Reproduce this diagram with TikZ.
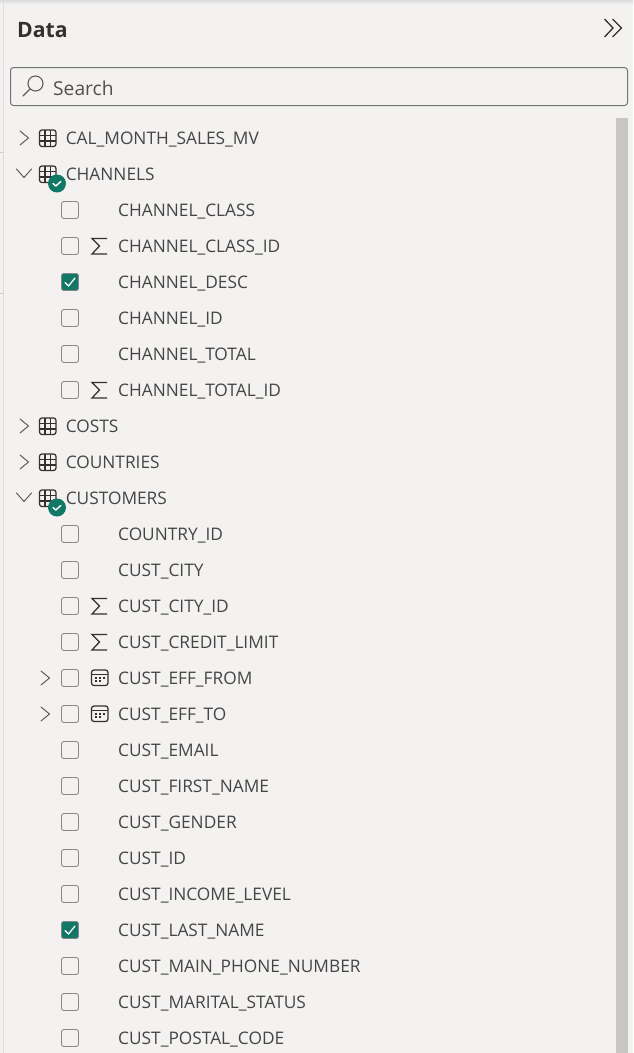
\documentclass[tikz,border=0pt]{standalone}
\usepackage{fontspec}
\setmainfont{Open Sans}
\definecolor{panelbg}{HTML}{F3F2F1}
\definecolor{inktxt}{HTML}{454545}
\definecolor{icondark}{HTML}{323130}
\definecolor{boxgray}{HTML}{8A8886}
\definecolor{teal}{HTML}{117865}
\definecolor{scrollg}{HTML}{C8C6C4}
\definecolor{chevgray}{HTML}{605E5C}
\tikzset{
  x=1pt,y=-1pt,
  lbl/.style={anchor=base west,inner sep=0pt,text=inktxt,font=\fontsize{17.3}{20}\selectfont},
  cbox/.style={draw=boxgray,line width=0.9pt,rounded corners=2.2pt,fill=panelbg},
  cboxon/.style={draw=boxgray,line width=0.9pt,rounded corners=2.2pt,fill=teal},
  chev/.style={draw=chevgray,line width=1pt,line cap=round,line join=miter},
  ico/.style={draw=icondark,line width=1.25pt},
}
\newcommand{\tblicon}[1]{%
  \draw[ico,rounded corners=2.5pt] (39.5,#1-8) rectangle (56,#1+8.5);
  \draw[ico] (45,#1-8)--(45,#1+8.5) (50.5,#1-8)--(50.5,#1+8.5) (39.5,#1-2.5)--(56,#1-2.5) (39.5,#1+3)--(56,#1+3);
}
\newcommand{\chevright}[2]{\draw[chev] (#1,#2-7)--(#1+8.5,#2)--(#1,#2+7);}
\newcommand{\chevdown}[1]{\draw[chev] (16.5,#1-5)--(24,#1+3.5)--(31.5,#1-5);}
\newcommand{\okbadge}[1]{%
  \fill[teal] (57,#1+9.5) circle (9);
  \draw[white,line width=1.4pt,line cap=round,line join=round] (53,#1+9.5)--(55.8,#1+12)--(60.8,#1+7.5);
}
\newcommand{\chkoff}[1]{\draw[cbox] (61.5,#1-8.5) rectangle (78.5,#1+8.5);}
\newcommand{\chkon}[1]{\draw[cboxon] (61.5,#1-8.5) rectangle (78.5,#1+8.5);
  \draw[white,line width=1.3pt,line cap=round,line join=round] (65,#1+0.5)--(68.5,#1+4)--(75,#1-4);}
\newcommand{\sigicon}[1]{\draw[ico,line join=miter] (107,#1-7.5)--(92,#1-7.5)--(99.5,#1)--(92,#1+8)--(107,#1+8);}
\newcommand{\calicon}[1]{%
  \draw[ico,rounded corners=2.5pt] (91.5,#1-8) rectangle (108,#1+7.5);
  \draw[ico] (91.5,#1-3.5)--(108,#1-3.5);
  \foreach \dx in {96,99.8,103.6} \fill[icondark] (\dx-0.9,#1-1.2) rectangle (\dx+0.9,#1+0.6);
  \foreach \dx in {96,99.8} \fill[icondark] (\dx-0.9,#1+2.4) rectangle (\dx+0.9,#1+4.2);
}
\begin{document}
\begin{tikzpicture}
\useasboundingbox (0,0) rectangle (633,1053);
\fill[panelbg] (0,0) rectangle (633,1053);
% window edges
\fill[top color=black!14,bottom color=panelbg] (0,0) rectangle (633,4);
\draw[black!13,line width=1pt] (3.5,0)--(3.5,1053);
\draw[black!20,line width=1pt] (0,152.5)--(3,152.5) (0,293.5)--(3,293.5);
% header
\node[anchor=base west,inner sep=0pt,text=icondark,font=\bfseries\fontsize{21.2}{24}\selectfont] (title) at (17,37) {Data};
\draw[icondark,line width=1.3pt] (604.5,19)--(613,28)--(604.5,37) (612.5,19)--(621.5,28)--(612.5,37);
% search
\draw[draw=black!55,line width=1pt,rounded corners=3pt] (10.5,67.5) rectangle (627.5,105.5);
\draw[chevgray,line width=1.1pt] (35.5,83.5) circle (7.5);
\draw[chevgray,line width=1.1pt,line cap=round] (30,89)--(23,96);
\node[lbl,font=\fontsize{19.2}{22}\selectfont,text=chevgray!85!black] (search) at (53,95.8) {Search};
% scrollbar
\fill[scrollg] (616,118) rectangle (628,1053);
% tables
\foreach \y/\t in {138/CAL\_MONTH\_SALES\_MV,426/COSTS,462/COUNTRIES}{
  \chevright{20}{\y}\tblicon{\y}
  \node[lbl] at (65.6,\y+6.8) {\t};
}
\foreach \y/\t in {174/CHANNELS,498/CUSTOMERS}{
  \chevdown{\y}\tblicon{\y}\okbadge{\y}
  \node[lbl] at (65.6,\y+6.8) {\t};
}
% plain fields
\foreach \y/\t in {210/CHANNEL\_CLASS,318/CHANNEL\_ID,354/CHANNEL\_TOTAL,534/COUNTRY\_ID,570/CUST\_CITY,750/CUST\_EMAIL,786/CUST\_FIRST\_NAME,822/CUST\_GENDER,858/CUST\_ID,894/CUST\_INCOME\_LEVEL,966/CUST\_MAIN\_PHONE\_NUMBER,1002/CUST\_MARITAL\_STATUS,1038/CUST\_POSTAL\_CODE}{
  \chkoff{\y}\node[lbl] at (118,\y+6.8) {\t};
}
% summed fields
\foreach \y/\t in {246/CHANNEL\_CLASS\_ID,390/CHANNEL\_TOTAL\_ID,606/CUST\_CITY\_ID,642/CUST\_CREDIT\_LIMIT}{
  \chkoff{\y}\sigicon{\y}\node[lbl] at (118,\y+6.8) {\t};
}
% checked fields
\foreach \y/\t in {282/CHANNEL\_DESC,930/CUST\_LAST\_NAME}{
  \chkon{\y}\node[lbl] at (118,\y+6.8) {\t};
}
% date fields
\foreach \y/\t in {678/CUST\_EFF\_FROM,714/CUST\_EFF\_TO}{
  \chevright{41}{\y}\chkoff{\y}\calicon{\y}\node[lbl] at (118,\y+6.8) {\t};
}
\end{tikzpicture}
\end{document}
